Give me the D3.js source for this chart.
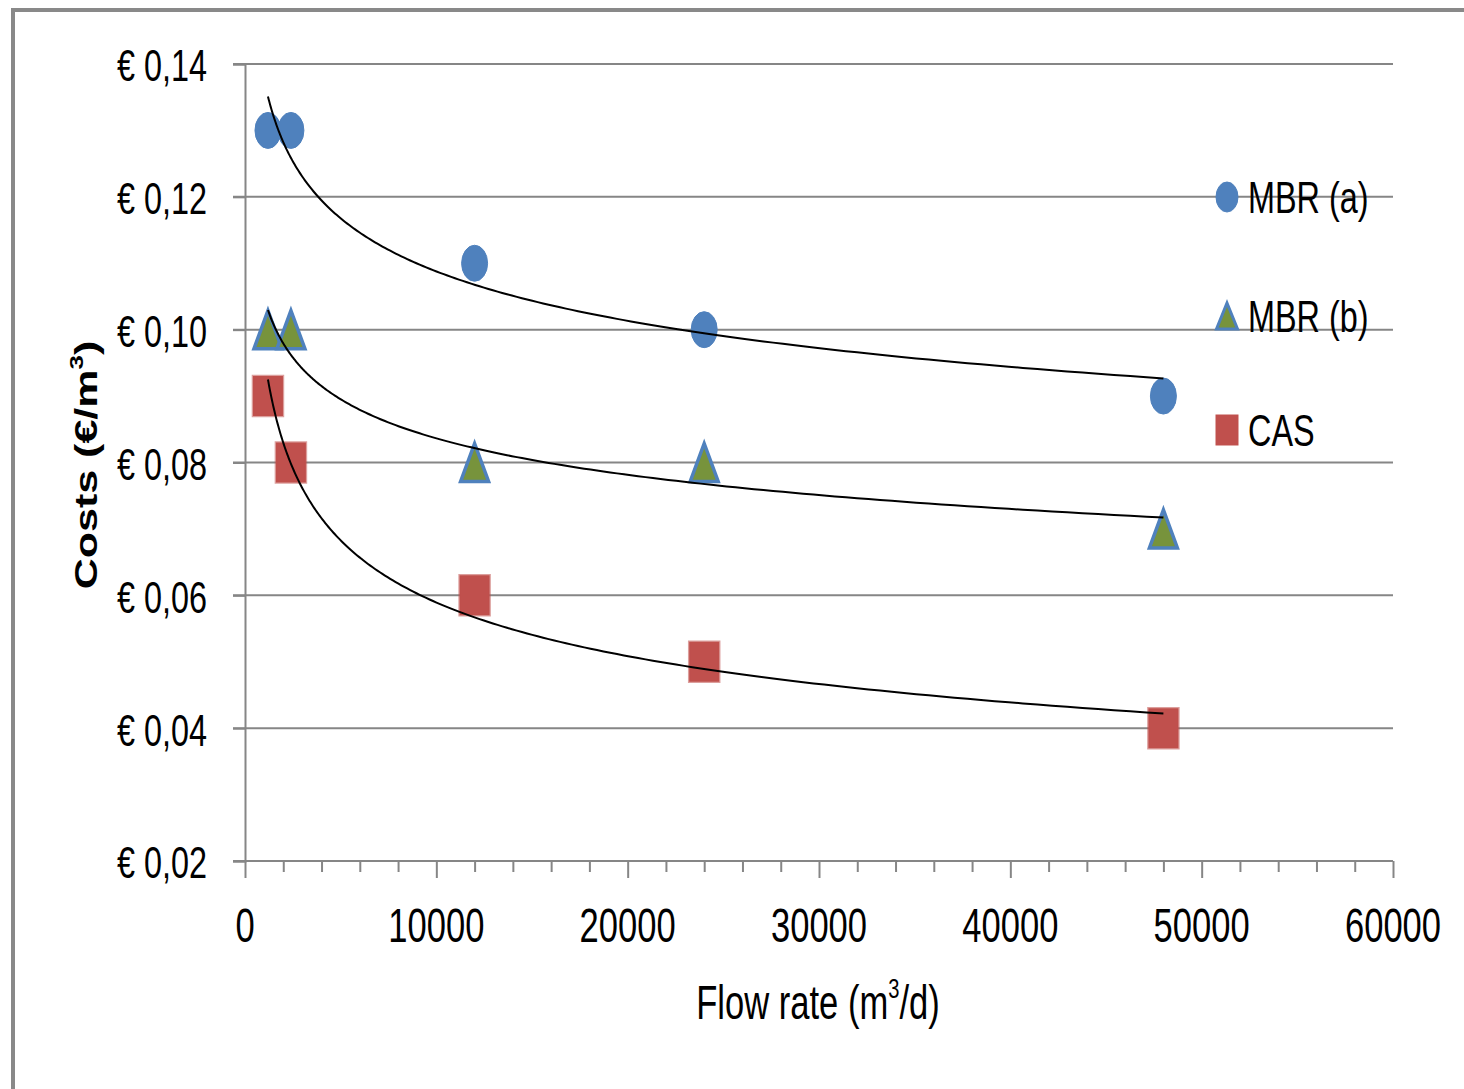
<!DOCTYPE html>
<html>
<head>
<meta charset="utf-8">
<script src="https://cdn.jsdelivr.net/npm/d3@7"></script>
<style>
  html, body { margin: 0; padding: 0; background: #fff; }
  svg { display: block; }
  text { font-family: "Liberation Sans", "DejaVu Sans", sans-serif; fill: #000; }
</style>
</head>
<body>
<svg id="chart" width="1464" height="1089"></svg>
<script>
// Flow rates (m3/d) and unit costs (EUR/m3) per treatment option
const flowRates = [1200, 2400, 12000, 24000, 48000];
const mbrA = [0.13, 0.13, 0.11, 0.10, 0.09];
const mbrB = [0.10, 0.10, 0.08, 0.08, 0.07];
const cas  = [0.09, 0.08, 0.06, 0.05, 0.04];
const seriesNames = ["MBR (a)", "MBR (b)", "CAS"];
const yTicks = [0.02, 0.04, 0.06, 0.08, 0.10, 0.12, 0.14];
const xTicks = [0, 10000, 20000, 30000, 40000, 50000, 60000];

const BLUE = "#4F81BD", GREEN = "#77933C", RED = "#C0504D", GRID = "#868686";
const SQUEEZE = 0.72; // narrow face: horizontal compression of all text

const svg = d3.select("#chart");
const x = d3.scaleLinear().domain([0, 60000]).range([245, 1393]);
const y = d3.scaleLinear().domain([0.02, 0.14]).range([861, 64]);

// outer chart frame
svg.append("rect").attr("x", 13).attr("y", 10).attr("width", 1490).attr("height", 1110)
  .attr("fill", "none").attr("stroke", "#898989").attr("stroke-width", 4);

// condensed text helper
function label(g, px, py, str, opts = {}) {
  const t = g.append("text")
    .attr("transform", `translate(${px},${py}) scale(${SQUEEZE},1)` + (opts.rotate ? ` rotate(${opts.rotate})` : ""))
    .attr("text-anchor", opts.anchor || "start")
    .attr("dominant-baseline", "central")
    .attr("font-size", opts.size || 45)
    .attr("font-weight", opts.weight || "normal");
  if (opts.html) t.html(str); else t.text(str);
  return t;
}

// horizontal gridlines
const grid = svg.append("g");
grid.selectAll("line").data(yTicks.filter(v => v > 0.02)).join("line")
  .attr("x1", 233).attr("x2", 1393)
  .attr("y1", d => y(d)).attr("y2", d => y(d))
  .attr("stroke", GRID).attr("stroke-width", 2);

// y axis
const yAxis = svg.append("g").attr("transform", "translate(245,0)")
  .call(d3.axisLeft(y).tickValues(yTicks).tickSize(12).tickFormat(() => ""));
yAxis.select(".domain").attr("stroke", GRID).attr("stroke-width", 2);
yAxis.selectAll(".tick line").attr("stroke", GRID).attr("stroke-width", 2);
const yLab = svg.append("g");
yTicks.forEach(v => label(yLab, 207, y(v) + 2, "€ " + v.toFixed(2).replace(".", ","), { anchor: "end", size: 45 }));

// x axis: major + minor ticks
const xAxis = svg.append("g").attr("transform", "translate(0,861)");
xAxis.call(d3.axisBottom(x).tickValues(d3.range(0, 60001, 2000)).tickSize(11).tickFormat(() => ""));
xAxis.select(".domain").attr("stroke", GRID).attr("stroke-width", 2).attr("d", "M233,0H1393");
xAxis.selectAll(".tick line").attr("stroke", GRID).attr("stroke-width", 2)
  .attr("y2", d => (d % 10000 === 0 ? 17 : 11));
const xLab = svg.append("g");
xTicks.forEach(v => label(xLab, x(v), 925, String(v), { anchor: "middle", size: 48 }));

// axis titles
label(svg.append("g"), 818, 1002, 'Flow rate (m<tspan font-size="28" dy="-14">3</tspan><tspan dy="14">/d)</tspan>', { anchor: "middle", size: 48, html: true });
label(svg.append("g"), 86, 465, 'Costs (€/m<tspan font-size="26" dy="-13">3</tspan><tspan dy="13">)</tspan>', { anchor: "middle", size: 43, weight: "bold", rotate: -90, html: true });

// marker shapes (w x h box centred on point)
function ellipsePath(cx, cy, w, h) {
  const rx = w / 2, ry = h / 2;
  return `M${cx - rx},${cy}A${rx},${ry} 0 1,0 ${cx + rx},${cy}A${rx},${ry} 0 1,0 ${cx - rx},${cy}Z`;
}
function trianglePath(cx, cy, w, h) {
  return `M${cx},${cy - h / 2}L${cx + w / 2},${cy + h / 2}L${cx - w / 2},${cy + h / 2}Z`;
}
function squarePath(cx, cy, w, h) {
  return `M${cx - w / 2},${cy - h / 2}h${w}v${h}h${-w}Z`;
}

const series = [
  { name: seriesNames[0], values: mbrA, shape: ellipsePath,  size: [26, 36], fill: BLUE,  stroke: BLUE,  sw: 1, lsize: [22, 30] },
  { name: seriesNames[1], values: mbrB, shape: trianglePath, size: [28, 38], fill: GREEN, stroke: BLUE,  sw: 3.5, lsize: [21, 26] },
  { name: seriesNames[2], values: cas,  shape: squarePath,   size: [30, 40], fill: RED,   stroke: "rgba(192,80,77,0.55)", sw: 2.5, lsize: [23, 31] }
];

// data markers
const marks = svg.append("g");
series.forEach(s => {
  marks.append("g").selectAll("path").data(flowRates.map((f, i) => [f, s.values[i]])).join("path")
    .attr("d", d => s.shape(x(d[0]), y(d[1]), s.size[0], s.size[1]))
    .attr("fill", s.fill).attr("stroke", s.stroke).attr("stroke-width", s.sw)
    .attr("stroke-linejoin", "miter");
});

// power trend lines: y = A * x^b, least squares on ln(x), ln(y)
function powerFit(xs, ys) {
  const lx = xs.map(Math.log), ly = ys.map(Math.log);
  const mx = d3.mean(lx), my = d3.mean(ly);
  const b = d3.sum(lx, (v, i) => (v - mx) * (ly[i] - my)) / d3.sum(lx, v => (v - mx) ** 2);
  return { A: Math.exp(my - b * mx), b };
}
const trend = svg.append("g");
const line = d3.line().x(d => x(d[0])).y(d => y(d[1]));
const [xMin, xMax] = d3.extent(flowRates);
series.forEach(s => {
  const { A, b } = powerFit(flowRates, s.values);
  const pts = d3.range(0, 201).map(i => {
    const fx = Math.exp(Math.log(xMin) + (Math.log(xMax) - Math.log(xMin)) * i / 200);
    return [fx, A * Math.pow(fx, b)];
  });
  trend.append("path").attr("d", line(pts))
    .attr("fill", "none").attr("stroke", "#000").attr("stroke-width", 2);
});

// legend
const legend = svg.append("g");
const legendY = [197, 316, 430];
series.forEach((s, i) => {
  legend.append("path")
    .attr("d", s.shape(1227, legendY[i], s.lsize[0], s.lsize[1]))
    .attr("fill", s.fill).attr("stroke", s.stroke).attr("stroke-width", i === 1 ? 3 : (i === 2 ? 0 : 1));
  label(legend, 1248, legendY[i] + 1, s.name, { size: 45 });
});
</script>
</body>
</html>
